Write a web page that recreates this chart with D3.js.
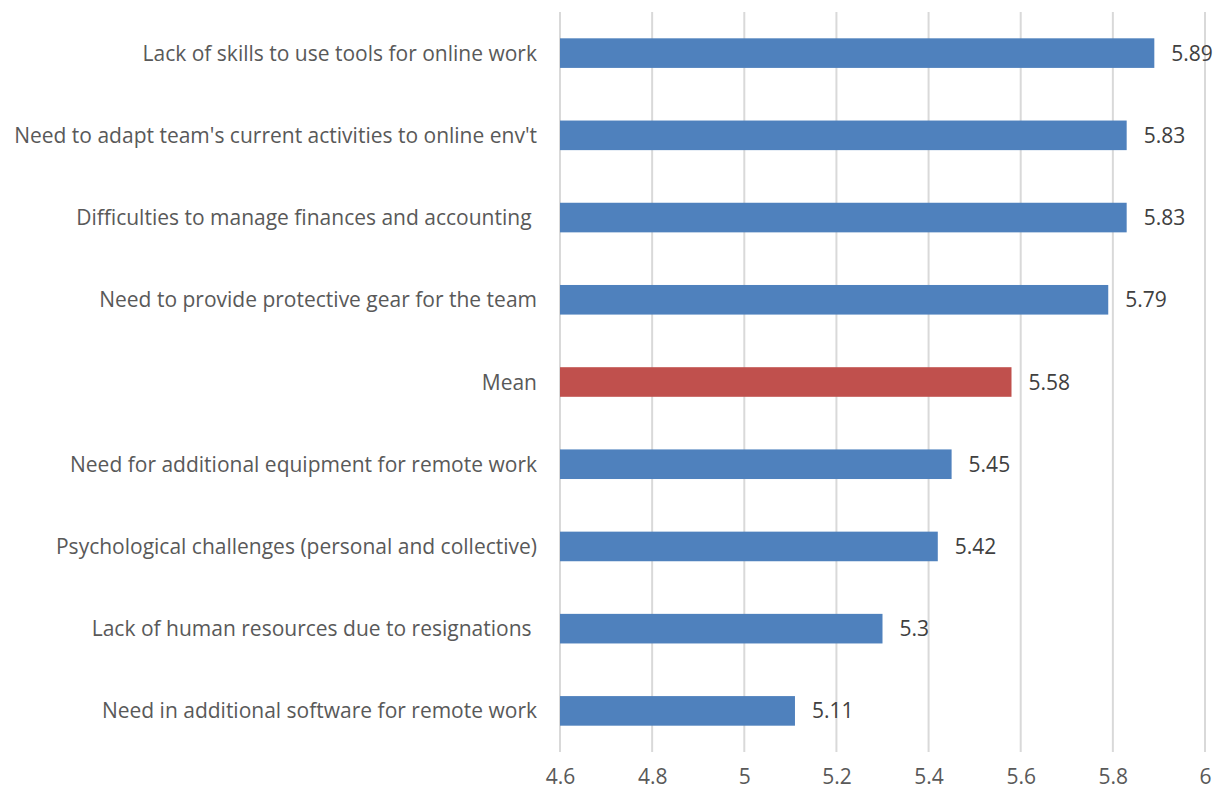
<!DOCTYPE html>
<html>
<head>
<meta charset="utf-8">
<script src="https://cdn.jsdelivr.net/npm/d3@7"></script>
<style>
  html, body { margin: 0; padding: 0; background: #fff; }
  svg { display: block; font-family: "Open Sans", "Liberation Sans", sans-serif; }
</style>
</head>
<body>
<svg id="chart" width="1222" height="792"></svg>
<script>
// Challenges faced by teams, mean scores (top to bottom)
const categories = [
  "Lack of skills to use tools for online work",
  "Need to adapt team's current activities to online env't",
  "Difficulties to manage finances and accounting ",
  "Need to provide protective gear for the team",
  "Mean",
  "Need for additional equipment for remote work",
  "Psychological challenges (personal and collective)",
  "Lack of human resources due to resignations ",
  "Need in additional software for remote work"
];
const values = [5.89, 5.83, 5.83, 5.79, 5.58, 5.45, 5.42, 5.3, 5.11];
const highlighted = ["Mean"];
const xTicks = [4.6, 4.8, 5, 5.2, 5.4, 5.6, 5.8, 6];

const svg = d3.select("#chart");
const margin = { left: 560, right: 17, top: 12, bottom: 40 };
const W = 1222, H = 792;

const x = d3.scaleLinear().domain([4.6, 6]).range([margin.left, W - margin.right]);
const y = d3.scaleBand().domain(categories).range([margin.top, H - margin.bottom]).paddingInner(0.64).paddingOuter(0.32);

// vertical gridlines
svg.append("g").selectAll("line").data(xTicks).join("line")
  .attr("x1", d => x(d)).attr("x2", d => x(d))
  .attr("y1", margin.top).attr("y2", H - margin.bottom)
  .attr("stroke", "#d9d9d9").attr("stroke-width", 2);

// x axis tick labels
const xAxis = d3.axisBottom(x).tickValues(xTicks).tickSize(0).tickPadding(0).tickFormat(d => String(d));
const gx = svg.append("g").attr("transform", `translate(0,${H - margin.bottom + 17})`).call(xAxis);
gx.select(".domain").remove();
gx.selectAll("text").attr("fill", "#595959").style("font-size", "21px")
  .style("font-family", "'Open Sans', sans-serif").attr("dy", "0.71em");

// bars
svg.append("g").selectAll("rect").data(categories).join("rect")
  .attr("x", x(4.6))
  .attr("y", d => y(d))
  .attr("width", (d, i) => x(values[i]) - x(4.6))
  .attr("height", y.bandwidth())
  .attr("fill", d => highlighted.includes(d) ? "#C0504D" : "#4F81BD");

// value labels
svg.append("g").selectAll("text").data(categories).join("text")
  .attr("x", (d, i) => x(values[i]) + 17)
  .attr("y", d => y(d) + y.bandwidth() / 2)
  .attr("dy", "0.36em")
  .attr("fill", "#404040")
  .style("font-size", "21px")
  .text((d, i) => String(values[i]));

// category labels (trailing spaces kept)
const yAxis = d3.axisLeft(y).tickSize(0).tickPadding(23);
const gy = svg.append("g").attr("transform", `translate(${margin.left},0)`).call(yAxis);
gy.select(".domain").remove();
gy.selectAll("text").attr("fill", "#595959").style("font-size", "21px")
  .style("white-space", "pre")
  .style("font-family", "'Open Sans', sans-serif").attr("dy", "0.36em");
</script>
</body>
</html>
